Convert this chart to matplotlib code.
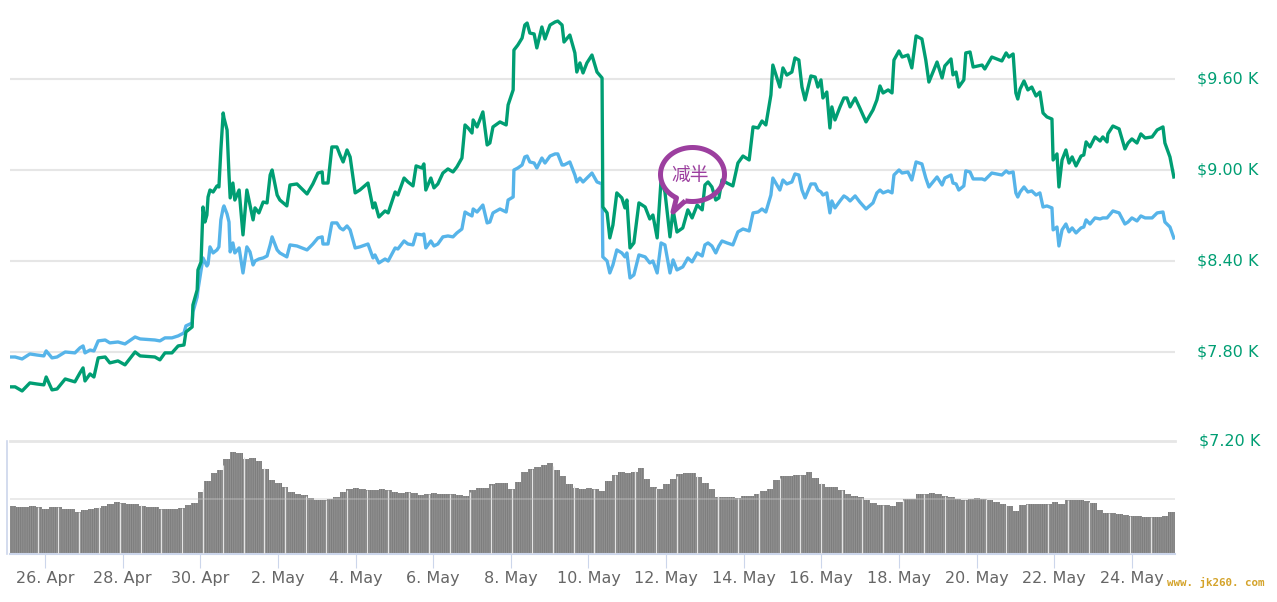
import matplotlib
matplotlib.use('Agg')
import matplotlib.pyplot as plt
import numpy as np
from matplotlib.patches import PathPatch
from matplotlib.path import Path
from matplotlib.transforms import IdentityTransform

# days since 26 Apr
days = [-0.88,-0.77,-0.59,-0.39,-0.21,-0.03,0.03,0.18,0.31,0.52,0.77,0.90,0.98,1.03,1.16,1.26,1.37,1.55,1.67,1.88,
    2.06,2.32,2.45,2.83,2.96,3.09,3.27,3.43,3.58,3.63,3.79,3.81,3.92,3.94,4.02,4.07,4.12,4.17,4.20,4.25,
    4.33,4.43,4.48,4.53,4.59,4.61,4.69,4.74,4.77,4.84,4.89,5.00,5.10,5.20,5.28,5.36,5.41,5.51,5.62,5.72,
    5.80,5.85,5.98,6.05,6.23,6.31,6.49,6.75,6.90,7.03,7.14,7.16,7.29,7.39,7.52,7.60,7.68,7.78,7.86,7.99,
    8.11,8.32,8.45,8.50,8.60,8.76,8.84,9.02,9.09,9.25,9.35,9.48,9.56,9.71,9.76,9.81,9.94,10.02,10.12,10.25,
    10.38,10.51,10.61,10.74,10.82,10.90,11.00,11.03,11.13,11.28,11.39,11.46,11.54,11.72,11.88,11.93,12.06,12.08,12.18,12.29,
    12.36,12.42,12.49,12.60,12.67,12.80,12.88,13.01,13.14,13.21,13.32,13.37,13.52,13.65,13.70,13.78,13.86,13.96,14.09,14.22,
    14.35,14.37,14.48,14.55,14.63,14.73,14.86,14.94,14.99,15.07,15.17,15.30,15.46,15.58,15.66,15.77,15.87,15.97,16.10,16.18,
    16.28,16.43,16.56,16.67,16.80,16.93,17.00,17.08,17.18,17.28,17.36,17.44,17.57,17.72,17.85,17.98,18.14,18.24,18.37,18.47,
    18.57,18.70,18.75,18.93,19.01,19.11,19.24,19.32,19.42,19.50,19.58,19.73,19.84,19.91,19.99,20.04,20.14,20.22,20.27,20.35,
    20.48,20.58,20.66,20.74,20.87,20.99,21.15,21.33,21.43,21.51,21.59,21.72,21.82,21.87,22.00,22.08,22.23,22.33,22.44,22.59,
    22.69,22.77,22.98,23.11,23.18,23.34,23.39,23.47,23.54,23.67,23.72,23.83,23.91,24.14,24.21,24.39,24.65,24.76,24.83,24.94,
    25.01,25.06,25.12,25.22,25.32,25.42,25.53,25.63,25.71,25.81,25.94,25.97,26.07,26.12,26.20,26.30,26.38,26.46,26.56,26.69,
    26.76,26.82,26.92,27.05,27.18,27.25,27.36,27.38,27.51,27.67,27.82,27.90,28.00,28.13,28.23,28.34,28.52,28.65,28.80,28.85,
    28.98,29.08]

green = [7570,7570,7543,7596,7589,7583,7635,7550,7556,7622,7603,7662,7695,7609,7655,7635,7761,7767,7728,7741,
    7715,7800,7774,7767,7748,7794,7794,7840,7846,7932,7965,8110,8209,8341,8394,8756,8657,8703,8822,8868,
    8855,8895,8888,9132,9376,9343,9264,8967,8816,8914,8802,8868,8572,8868,8769,8671,8750,8717,8789,8783,
    8967,9000,8835,8802,8763,8901,8908,8842,8908,8980,8987,8914,8914,9152,9152,9099,9053,9132,9086,8849,
    8868,8914,8750,8783,8690,8730,8717,8855,8835,8947,8921,8895,9027,9013,9040,8868,8947,8882,8908,8980,
    9007,8987,9020,9079,9297,9277,9244,9330,9284,9383,9165,9178,9284,9317,9297,9429,9528,9791,9824,9870,
    9956,9969,9903,9897,9805,9943,9864,9956,9976,9982,9956,9844,9890,9772,9646,9706,9640,9706,9758,9646,
    9607,8756,8717,8552,8637,8849,8816,8750,8802,8486,8519,8783,8756,8677,8703,8552,8934,8855,8559,8737,
    8591,8618,8737,8684,8769,8737,8901,8921,8888,8802,8816,8934,8914,8895,9046,9092,9066,9284,9277,9323,
    9297,9495,9692,9547,9673,9626,9646,9739,9725,9547,9462,9620,9613,9547,9594,9475,9514,9277,9416,9330,
    9416,9475,9475,9416,9475,9409,9317,9396,9462,9554,9508,9528,9508,9725,9785,9745,9758,9673,9884,9864,
    9725,9580,9712,9607,9686,9732,9627,9646,9547,9594,9772,9778,9679,9692,9666,9745,9719,9772,9745,9765,
    9508,9468,9534,9587,9528,9547,9488,9514,9376,9350,9336,9066,9106,8888,9066,9132,9046,9086,9027,9092,
    9099,9185,9152,9218,9191,9218,9185,9238,9290,9271,9139,9178,9205,9178,9238,9211,9218,9264,9284,9178,
    9086,8954]

blue = [7767,7767,7754,7787,7780,7774,7807,7761,7767,7800,7794,7827,7840,7794,7813,7807,7873,7879,7860,7866,
    7853,7899,7886,7879,7873,7893,7893,7906,7926,7972,7991,8064,8163,8209,8341,8420,8394,8367,8380,8493,
    8453,8473,8493,8671,8750,8763,8710,8657,8460,8519,8453,8486,8321,8493,8460,8374,8400,8413,8420,8433,
    8506,8559,8473,8453,8427,8506,8499,8473,8512,8552,8559,8512,8512,8651,8651,8618,8605,8631,8605,8486,
    8493,8512,8420,8440,8387,8413,8400,8486,8479,8532,8512,8506,8578,8572,8578,8486,8532,8499,8512,8559,
    8565,8559,8585,8611,8723,8710,8697,8743,8723,8769,8651,8657,8717,8743,8723,8802,8822,9000,9013,9033,
    9086,9092,9053,9046,9013,9079,9046,9092,9106,9106,9033,9033,9053,8967,8921,8947,8921,8947,8980,8921,
    8908,8427,8400,8321,8374,8473,8453,8427,8453,8288,8308,8440,8427,8387,8400,8321,8519,8506,8321,8407,
    8341,8361,8420,8394,8453,8433,8506,8519,8499,8453,8499,8532,8519,8506,8592,8611,8598,8717,8723,8743,
    8723,8835,8947,8868,8934,8908,8921,8974,8967,8868,8816,8908,8908,8868,8855,8835,8849,8717,8796,8750,
    8796,8829,8816,8796,8829,8789,8743,8783,8849,8868,8849,8862,8849,8967,9000,8980,8987,8934,9053,9040,
    8947,8888,8954,8901,8947,8967,8914,8908,8868,8895,8994,8987,8941,8941,8934,8980,8967,8994,8980,8987,
    8849,8822,8855,8888,8855,8862,8835,8849,8756,8763,8750,8605,8624,8499,8605,8644,8592,8618,8585,8618,
    8624,8671,8644,8684,8677,8684,8684,8690,8730,8717,8644,8657,8684,8664,8697,8684,8684,8717,8723,8657,
    8624,8552]

# one bar every 4 hours
volume = [48,47,47,48,47,45,47,47,45,45,
    42,44,45,46,48,50,52,51,50,50,
    48,47,47,45,45,45,46,49,51,62,
    73,81,84,95,102,101,95,96,93,85,
    74,71,67,62,60,59,56,54,54,55,
    57,62,65,66,65,64,64,65,64,62,
    61,62,61,59,60,61,60,60,60,59,
    58,64,66,66,70,71,71,65,72,82,
    85,87,89,91,84,78,70,66,65,66,
    65,63,73,79,82,81,82,86,75,67,
    65,70,75,80,81,81,77,71,65,57,
    57,57,56,58,
    58,60,63,65,74,78,78,79,79,82,
    76,70,67,67,64,60,58,57,54,51,
    49,49,48,52,55,55,60,60,61,60,
    58,57,55,54,55,56,55,54,52,50,
    48,43,49,50,50,50,50,52,50,54,
    54,54,53,51,44,41,41,40,39,38,
    38,37,37,37,38,42]

price_ticks = [7800, 8400, 9000, 9600]
price_labels = ['$7.80 K', '$8.40 K', '$9.00 K', '$9.60 K']
date_ticks = list(range(0, 30, 2))
date_labels = ['26. Apr', '28. Apr', '30. Apr', '2. May', '4. May', '6. May', '8. May', '10. May',
               '12. May', '14. May', '16. May', '18. May', '20. May', '22. May', '24. May']

W, H = 1277, 602
GREEN = '#009e73'
BLUE = '#56b4e9'
GRID = '#e6e6e6'
AXIS = '#ccd6eb'
PURPLE = '#9c3f9f'

plt.rcParams['hatch.linewidth'] = 0.6

fig = plt.figure(figsize=(W / 100, H / 100), dpi=100)
ax = fig.add_axes([10 / W, (H - 441) / H, 1165 / W, 431 / H])
vol = fig.add_axes([10 / W, (H - 554) / H, 1165 / W, 113 / H])

xlim = (-0.902, 29.11)

# price pane
ax.plot(days, blue, color=BLUE, lw=2.4, solid_joinstyle='round', zorder=3)
ax.plot(days, green, color=GREEN, lw=2.4, solid_joinstyle='round', zorder=4)
ax.set_xlim(xlim)
ax.set_ylim(7213, 10055)
ax.set_yticks(price_ticks)
ax.set_yticklabels(price_labels, fontsize=11.5, color=GREEN, va='center')
ax.yaxis.tick_right()
ax.tick_params(axis='y', length=0, pad=16)
ax.set_xticks([])
ax.grid(axis='y', color=GRID, lw=1.5)
ax.set_axisbelow(True)
for s in ax.spines.values():
    s.set_visible(False)
ax.text(1 + 24 / 1165, 0, '$7.20 K', transform=ax.transAxes, fontsize=11.5, color=GREEN, va='center', ha='left')

# volume pane
bar_days = -0.902 + (np.arange(len(volume)) + 0.5) / 6
vol.bar(bar_days, volume, width=1 / 6, color='#7d7d7d', edgecolor='#949494', hatch='|' * 9, lw=0, zorder=2)
gap_days = np.arange(-0.19, 29, 0.531)
vol.vlines(gap_days, 0, np.interp(gap_days, bar_days, volume), color='#e4e4e4', lw=0.9, zorder=3)
vol.axhline(55, color='#c8c8c8', lw=1.2, alpha=0.45, zorder=4)
vol.set_xlim(xlim)
vol.set_ylim(0, 113)
vol.set_yticks([])
vol.set_xticks(date_ticks)
vol.set_xticklabels(date_labels, fontsize=11.5, color='#666666')
vol.tick_params(axis='x', length=10, width=0.8, color=AXIS, pad=2)
for name in ['left', 'right']:
    vol.spines[name].set_visible(False)
vol.spines['top'].set_color(GRID)
vol.spines['top'].set_linewidth(2)
vol.spines['bottom'].set_color(AXIS)
vol.spines['bottom'].set_linewidth(1.5)
fig.add_artist(plt.Line2D([6.5 / W, 6.5 / W], [(H - 554) / H, (H - 441) / H], color=AXIS, lw=1.2))

# speech bubble around the halving note, in pixels from the top left
cx, cy, rx, ry = 692.5, 174.5, 32, 27
pts = [(cx + rx * np.cos(a), cy + ry * np.sin(a)) for a in np.radians(np.linspace(103, -240, 90))]
pts = pts + [(673, 212)]
verts = [(x, H - y) for x, y in pts] + [(pts[0][0], H - pts[0][1])]
fig.add_artist(PathPatch(Path(verts), facecolor='none', edgecolor=PURPLE, lw=3.6,
                         joinstyle='round', transform=IdentityTransform(), zorder=10))
fig.text(690 / W, (H - 175) / H, '减半', fontsize=13.5, color=PURPLE, ha='center', va='center',
         family=['Noto Sans CJK SC', 'DejaVu Sans'], zorder=11)

fig.text(1167 / W, (H - 582) / H, 'www. jk260. com', fontsize=7.8, color='#d4a32a', fontweight='bold',
         family='DejaVu Sans Mono', ha='left', va='center')

fig.savefig('out.png', dpi=100)
